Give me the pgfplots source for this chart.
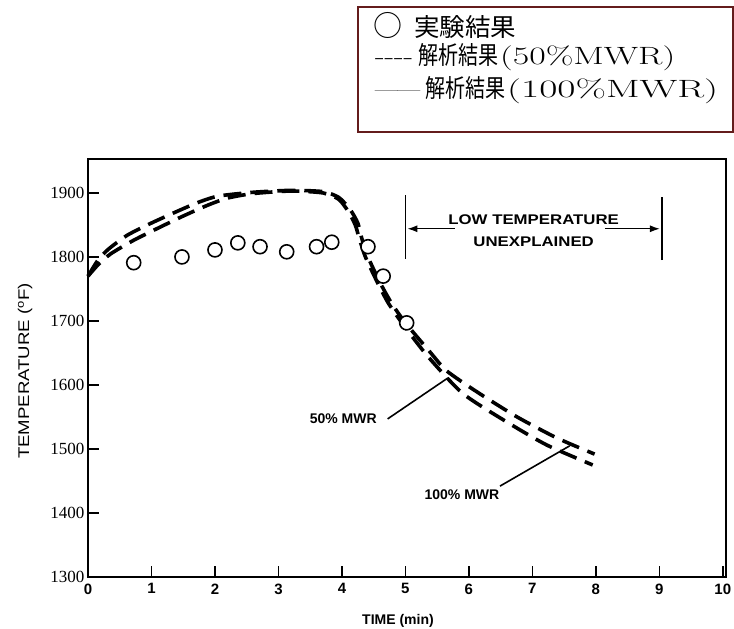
\documentclass[border=0pt]{standalone}
\usepackage{fontspec}
\usepackage{graphicx}
\usepackage{pgfplots}
\pgfplotsset{compat=1.18}
\usetikzlibrary{arrows.meta}

\newfontfamily\cjk{Noto Sans CJK JP}
\newfontfamily\labelsans{Liberation Sans}
\newfontfamily\tickserif{Liberation Serif}
\newfontfamily\widesans{Liberation Sans}[FakeStretch=1.2]
\definecolor{boxbrown}{RGB}{100,28,28}

% Temperature histories: 100% and 50% metal-water reaction, and measured points
\pgfplotstableread{
x y
0.00 1770
0.15 1794
0.32 1812
0.62 1834
1.00 1853
1.40 1871
1.73 1885
2.05 1895
2.60 1901
3.20 1904
3.70 1902
3.95 1893
4.13 1874
4.25 1853
4.31 1830
4.41 1800
4.60 1760
4.78 1728
5.00 1697
5.40 1650
5.65 1622
6.13 1589
6.76 1550
7.39 1517
7.98 1492
}\mwrfull

\pgfplotstableread{
x y
0.00 1770
0.17 1789
0.36 1805
0.70 1825
1.00 1840
1.48 1863
1.89 1881
2.20 1892
2.60 1899
3.20 1903
3.70 1900
3.95 1890
4.10 1871
4.21 1850
4.27 1830
4.37 1800
4.56 1760
4.73 1728
4.96 1695
5.35 1645
5.90 1587
6.60 1542
7.23 1506
7.95 1475
}\mwrhalf

\pgfplotstableread{
x y
0.72 1791
1.48 1800
2.00 1811
2.36 1822
2.71 1816
3.13 1808
3.60 1816
3.84 1823
4.41 1816
4.65 1770
5.02 1697
}\measured

\newcommand\lat{\fontsize{25}{25}\selectfont}
\newcommand\jp{\cjk\fontsize{25}{25}\selectfont}

\begin{document}
\begin{tikzpicture}[x=1pt,y=1pt]
\useasboundingbox (0,0) rectangle (734,629);
\begin{axis}[
  at={(88pt,52pt)}, anchor=south west,
  scale only axis, width=638pt, height=418pt,
  xmin=0, xmax=10.05, ymin=1300, ymax=1953,
  axis line style={line width=1.8pt},
  xtick={0,1,...,10}, ytick={1300,1400,...,1900},
  tick align=inside, tick pos=left,
  major tick length=11pt,
  tick style={line width=1.6pt, black},
  /pgf/number format/assume math mode=true,
  /pgf/number format/set thousands separator={},
  xticklabel style={font=\labelsans\bfseries\fontsize{15}{15}\selectfont, yshift=-3pt},
  yticklabel style={font=\tickserif\fontsize{17}{17}\selectfont},
  clip=false,
]
\addplot[black, line width=3.6pt, dash pattern=on 18pt off 9pt, smooth, tension=0.4]
  table[x=x, y=y] {\mwrfull};
\addplot[black, line width=3.6pt, dash pattern=on 18pt off 9pt, smooth, tension=0.4]
  table[x=x, y=y] {\mwrhalf};
\addplot[only marks, mark=*, mark size=7pt,
  mark options={draw=black, fill=white, line width=1.6pt}]
  table[x=x, y=y] {\measured};

% region where the low temperature is not explained
\draw[line width=1.8pt] (axis cs:5,1797) -- (axis cs:5,1897);
\draw[line width=1.8pt] (axis cs:9.04,1795) -- (axis cs:9.04,1894);
\draw[line width=1.4pt, -{Latex[length=10pt,width=7pt]}] (axis cs:5.78,1844) -- (axis cs:5.03,1844);
\draw[line width=1.4pt, -{Latex[length=10pt,width=7pt]}] (axis cs:8.14,1844) -- (axis cs:9.01,1844);
\node[font=\widesans\bfseries\fontsize{14}{14}\selectfont] at (axis cs:7.02,1858) {LOW TEMPERATURE};
\node[font=\widesans\bfseries\fontsize{14}{14}\selectfont] at (axis cs:7.02,1823) {UNEXPLAINED};

% curve labels
\node[font=\labelsans\bfseries\fontsize{14}{14}\selectfont] at (axis cs:4.02,1548) {50\% MWR};
\draw[line width=1.6pt] (axis cs:4.72,1547) -- (axis cs:5.67,1611);
\node[font=\labelsans\bfseries\fontsize{14}{14}\selectfont] at (axis cs:5.89,1428) {100\% MWR};
\draw[line width=1.6pt] (axis cs:6.49,1442) -- (axis cs:7.59,1505);
\end{axis}

% axis titles
\node[rotate=90, font=\widesans\fontsize{15.5}{15.5}\selectfont] at (25,258) {TEMPERATURE (\textsuperscript{o}F)};
\node[anchor=base, font=\labelsans\bfseries\fontsize{14}{14}\selectfont] at (398,4) {TIME (min)};

% legend box
\draw[boxbrown, line width=1.5pt] (358,497) rectangle (733,622);
\node[anchor=west, inner sep=0pt] at (373,604)
  {{\cjk\fontsize{29}{29}\selectfont ○}\hspace{12pt}\resizebox{102pt}{\height}{\jp 実験結果}};
\node[anchor=west, inner sep=0pt] at (375,572)
  {\resizebox{38pt}{\height}{\lat{-}{-}{-}{-}}\hspace{5pt}\resizebox{80pt}{\height}{\jp 解析結果}\hspace{2pt}\resizebox{175pt}{\height}{\lat (50\%MWR)}};
\node[anchor=west, inner sep=0pt] at (375,539)
  {\resizebox{45pt}{\height}{\lat ——}\hspace{5pt}\resizebox{80pt}{\height}{\jp 解析結果}\hspace{2pt}\resizebox{211pt}{\height}{\lat (100\%MWR)}};
\end{tikzpicture}
\end{document}
